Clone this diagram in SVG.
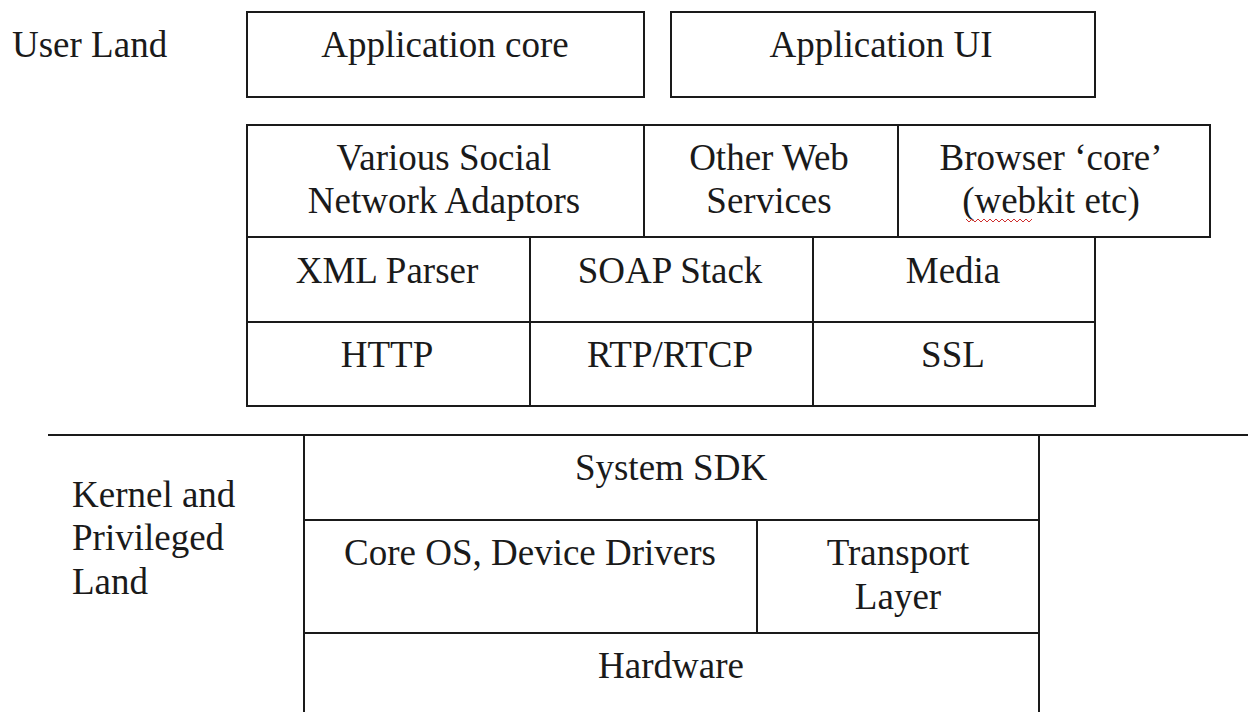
<svg xmlns="http://www.w3.org/2000/svg" width="1248" height="712" viewBox="0 0 1248 712">
<style>
.b{fill:#fff;stroke:#1a1a1a;stroke-width:2}
text{font-family:'Liberation Serif','Times New Roman',serif;font-size:37px;fill:#1a1a1a}
.t{text-anchor:middle}
.ln{stroke:#1a1a1a;stroke-width:2;fill:none}
</style>
<rect width="1248" height="712" fill="#fff"/>
<g id="label-user"><text x="12" y="57">User Land</text></g>
<g id="label-kernel"><text x="72" y="507">Kernel and</text><text x="72" y="550">Privileged</text><text x="72" y="594">Land</text></g>
<g id="app-core"><rect class="b" x="247" y="12" width="397" height="85"/><text class="t" x="445" y="57">Application core</text></g>
<g id="app-ui"><rect class="b" x="671" y="12" width="424" height="85"/><text class="t" x="881" y="57">Application UI</text></g>
<g id="social"><rect class="b" x="247" y="125" width="397" height="112"/><text class="t" x="444" y="170">Various Social</text><text class="t" x="444" y="213">Network Adaptors</text></g>
<g id="webservices"><rect class="b" x="644" y="125" width="254" height="112"/><text class="t" x="769" y="170">Other Web</text><text class="t" x="769" y="213">Services</text></g>
<g id="browser"><rect class="b" x="898" y="125" width="312" height="112"/><text class="t" x="1051" y="170">Browser ‘core’</text><text class="t" x="1051" y="213">(webkit etc)</text><path d="M966 219 l3 3 l3 -3 l3 3 l3 -3 l3 3 l3 -3 l3 3 l3 -3 l3 3 l3 -3 l3 3 l3 -3 l3 3 l3 -3 l3 3 l3 -3 l3 3 l3 -3 l3 3 l3 -3 l3 3 l3 -3" fill="none" stroke="#d03030" stroke-width="1"/></g>
<g id="xml"><rect class="b" x="247" y="237" width="283" height="85"/><text class="t" x="387" y="283">XML Parser</text></g>
<g id="soap"><rect class="b" x="530" y="237" width="283" height="85"/><text class="t" x="670" y="283">SOAP Stack</text></g>
<g id="media"><rect class="b" x="813" y="237" width="282" height="85"/><text class="t" x="953" y="283">Media</text></g>
<g id="http"><rect class="b" x="247" y="322" width="283" height="84"/><text class="t" x="387" y="367">HTTP</text></g>
<g id="rtp"><rect class="b" x="530" y="322" width="283" height="84"/><text class="t" x="670" y="367">RTP/RTCP</text></g>
<g id="ssl"><rect class="b" x="813" y="322" width="282" height="84"/><text class="t" x="953" y="367">SSL</text></g>
<g id="sdk"><rect class="b" x="304" y="435" width="735" height="85"/><text class="t" x="671" y="480">System SDK</text></g>
<g id="coreos"><rect class="b" x="304" y="520" width="453" height="113"/><text class="t" x="530" y="565">Core OS, Device Drivers</text></g>
<g id="transport"><rect class="b" x="757" y="520" width="282" height="113"/><text class="t" x="898" y="565">Transport</text><text class="t" x="898" y="609">Layer</text></g>
<g id="hardware"><rect class="b" x="304" y="633" width="735" height="90"/><text class="t" x="671" y="678">Hardware</text></g>
<g id="connectors"><line class="ln" x1="48" y1="435" x2="1248" y2="435"/></g>
</svg>
